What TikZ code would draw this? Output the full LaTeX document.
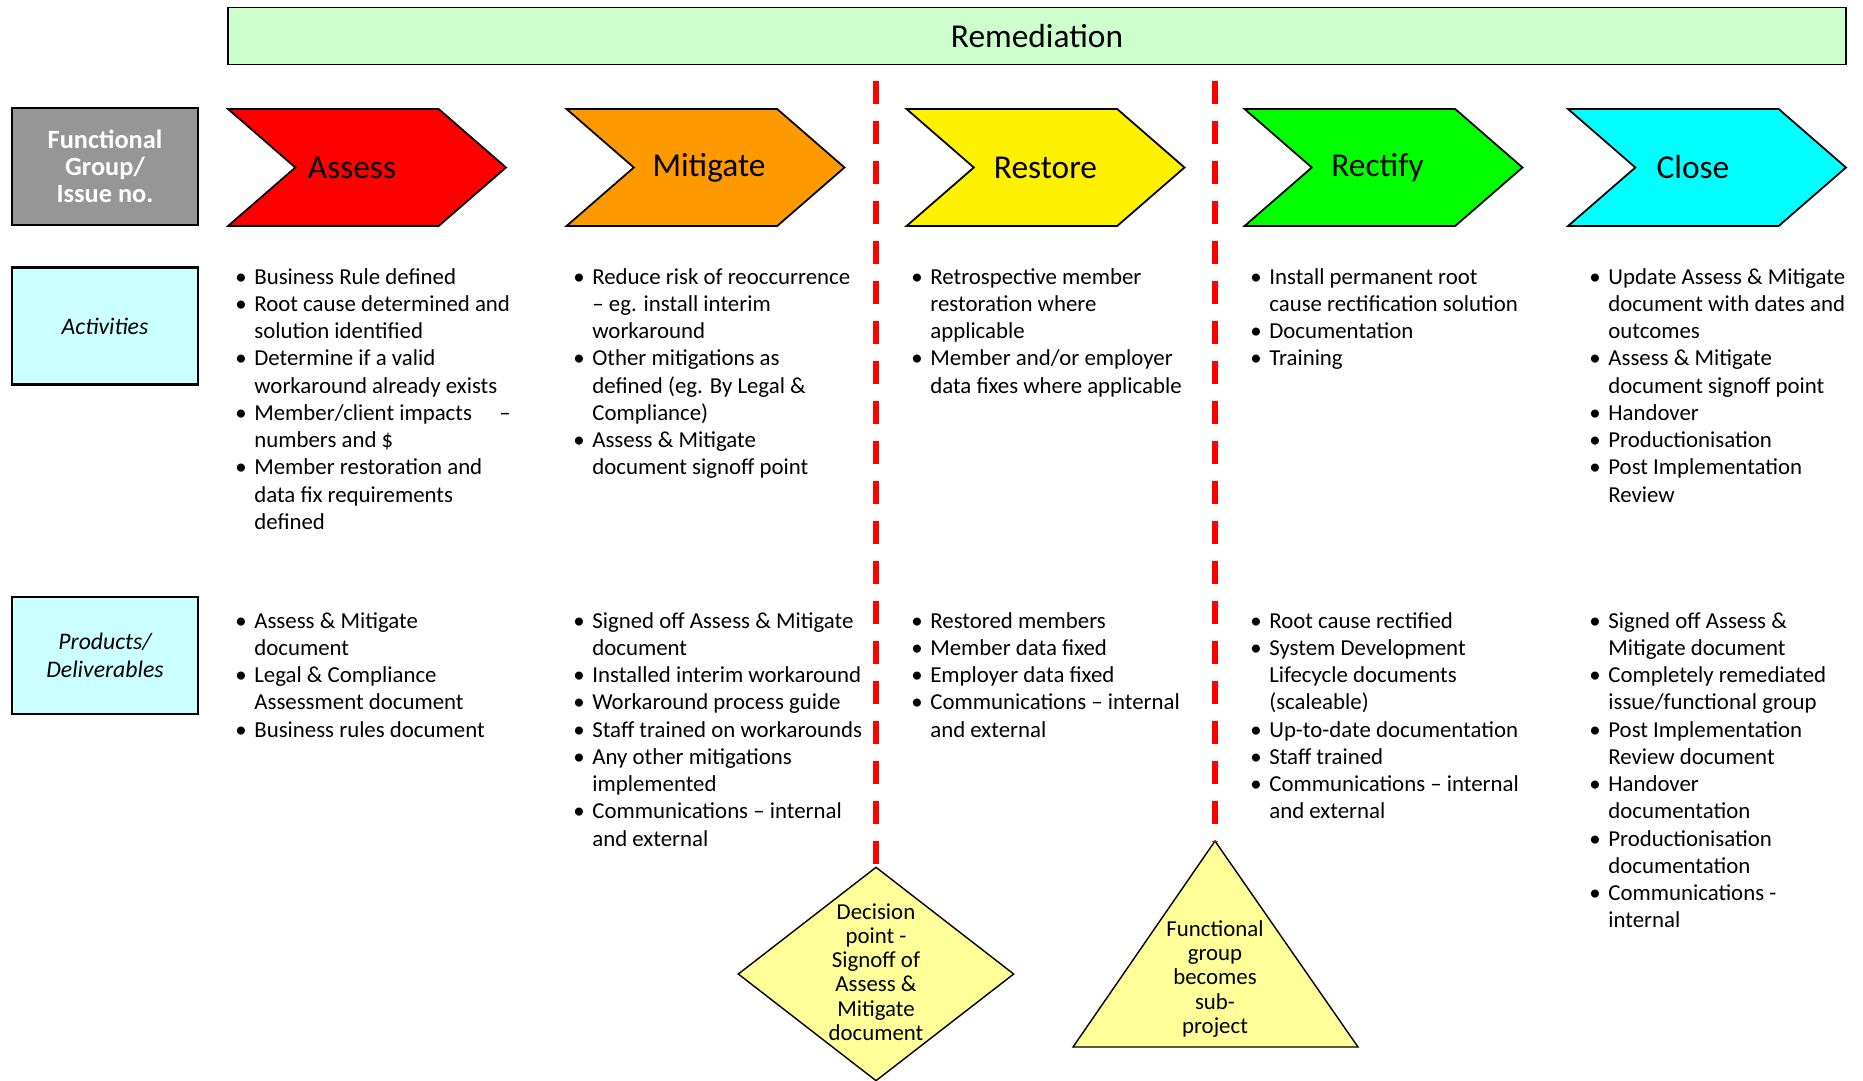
\documentclass[tikz,border=0pt]{standalone}
\usepackage{fontspec}
\setmainfont{Carlito}
\usetikzlibrary{shapes.symbols,shapes.geometric}

\definecolor{remgreen}{HTML}{CCFFCC}
\definecolor{rowgray}{HTML}{969696}
\definecolor{rowcyan}{HTML}{CCFFFF}
\definecolor{softyellow}{HTML}{FFFF99}
\definecolor{phaseorange}{HTML}{FF9900}
\definecolor{phasegreen}{HTML}{00FF00}
\definecolor{phasecyan}{HTML}{00FFFF}

\newcommand{\bul}{\makebox[0.38cm][l]{\textbullet}}
\newcommand{\ind}{\hspace*{0.38cm}}

\begin{document}
\begin{tikzpicture}[
  x=0.02cm, y=-0.02cm,
  phase/.style={signal,signal from=west,signal to=east,signal pointer angle=82,draw,line width=1pt,minimum width=5.56cm,minimum height=2.34cm,inner sep=0pt,font=\fontsize{19}{23}\selectfont},
  rowbox/.style={rectangle,draw,line width=1.3pt,minimum width=3.72cm,minimum height=2.34cm,fill=rowcyan,align=center,font=\fontsize{13.5}{16}\selectfont\itshape},
  items/.style={anchor=north west,align=left,inner sep=0pt,font=\fontsize{13}{15.5}\selectfont},
  cutline/.style={draw=red,line width=0.13cm,dash pattern=on 0.46cm off 0.34cm},
  milestone/.style={draw,fill=softyellow,line width=0.8pt},
  milestonetext/.style={align=center,inner sep=0pt,font=\fontsize{13}{13.8}\selectfont}
]
\useasboundingbox (0,0) rectangle (1863,1080);

% ===== HEADER =====
\node[draw,line width=1pt,fill=remgreen,minimum width=32.38cm,minimum height=1.14cm,font=\fontsize{19}{23}\selectfont] (remediation) at (1037,36) {Remediation};

% Row labels
\node[rowbox,fill=rowgray,text=white,font=\fontsize{15}{15.5}\selectfont\bfseries] (group) at (105,166.5) {Functional\\Group/\\Issue no.};
\node[rowbox] (activities) at (105,326) {Activities};
\node[rowbox] (products) at (105,655.5) {Products/\\Deliverables};

% Phases (leading space nudges the label off centre)
\node[phase,fill=red] (assess) at (367,167.5) {\hspace*{-0.6cm}Assess};
\node[phase,fill=phaseorange] (mitigate) at (705.5,167.5) {\hspace*{0.14cm}Mitigate};
\node[phase,fill=yellow] (restore) at (1045.5,167.5) {Restore};
\node[phase,fill=phasegreen] (rectify) at (1383.5,167.5) {\hspace*{-0.24cm}Rectify};
\node[phase,fill=phasecyan] (close) at (1707,167.5) {\hspace*{-0.56cm}Close};

% ===== ACTIVITIES =====
\node[items] (assess_act) at (235,268) {\bul Business Rule defined\\
\bul Root cause determined and\\
\ind solution identified\\
\bul Determine if a valid\\
\ind workaround already exists\\
\bul Member/client impacts\hspace{0.55cm}--\\
\ind numbers and \$\\
\bul Member restoration and\\
\ind data fix requirements\\
\ind defined};

\node[items] (mitigate_act) at (573,268) {\bul Reduce risk of reoccurrence\\
\ind -- eg. install interim\\
\ind workaround\\
\bul Other mitigations as\\
\ind defined (eg. By Legal \&\\
\ind Compliance)\\
\bul Assess \& Mitigate\\
\ind document signoff point};

\node[items] (restore_act) at (911,268) {\bul Retrospective member\\
\ind restoration where\\
\ind applicable\\
\bul Member and/or employer\\
\ind data fixes where applicable};

\node[items] (rectify_act) at (1250,268) {\bul Install permanent root\\
\ind cause rectification solution\\
\bul Documentation\\
\bul Training};

\node[items] (close_act) at (1589,268) {\bul Update Assess \& Mitigate\\
\ind document with dates and\\
\ind outcomes\\
\bul Assess \& Mitigate\\
\ind document signoff point\\
\bul Handover\\
\bul Productionisation\\
\bul Post Implementation\\
\ind Review};

% ===== PRODUCTS =====
\node[items] (assess_prod) at (235,612) {\bul Assess \& Mitigate\\
\ind document\\
\bul Legal \& Compliance\\
\ind Assessment document\\
\bul Business rules document};

\node[items] (mitigate_prod) at (573,612) {\bul Signed off Assess \& Mitigate\\
\ind document\\
\bul Installed interim workaround\\
\bul Workaround process guide\\
\bul Staff trained on workarounds\\
\bul Any other mitigations\\
\ind implemented\\
\bul Communications -- internal\\
\ind and external};

\node[items] (restore_prod) at (911,612) {\bul Restored members\\
\bul Member data fixed\\
\bul Employer data fixed\\
\bul Communications -- internal\\
\ind and external};

\node[items] (rectify_prod) at (1250,612) {\bul Root cause rectified\\
\bul System Development\\
\ind Lifecycle documents\\
\ind (scaleable)\\
\bul Up-to-date documentation\\
\bul Staff trained\\
\bul Communications -- internal\\
\ind and external};

\node[items] (close_prod) at (1589,612) {\bul Signed off Assess \&\\
\ind Mitigate document\\
\bul Completely remediated\\
\ind issue/functional group\\
\bul Post Implementation\\
\ind Review document\\
\bul Handover\\
\ind documentation\\
\bul Productionisation\\
\ind documentation\\
\bul Communications -\\
\ind internal};

% ===== CUT-OFF POINTS =====
\node[diamond,milestone,minimum width=5.52cm,minimum height=4.28cm,inner sep=0pt] (decision) at (876,974) {};
\node[milestonetext] (decision_text) at (876,972) {Decision\\point -\\Signoff of\\Assess \&\\Mitigate\\document};

\coordinate (subtop) at (1215,841);
\coordinate (subleft) at (1073,1047);
\coordinate (subright) at (1358,1047);
\draw[milestone] (subtop) -- (subright) -- (subleft) -- cycle;
\node[milestonetext] (sub_text) at (1215,979) {Functional\\group\\becomes\\sub-\\project};

\coordinate (cutA) at (876,81);
\coordinate (cutB) at (1215,81);
\draw[cutline] (cutA) -- (decision.north);
\draw[cutline] (cutB) -- (subtop);

\end{tikzpicture}
\end{document}
